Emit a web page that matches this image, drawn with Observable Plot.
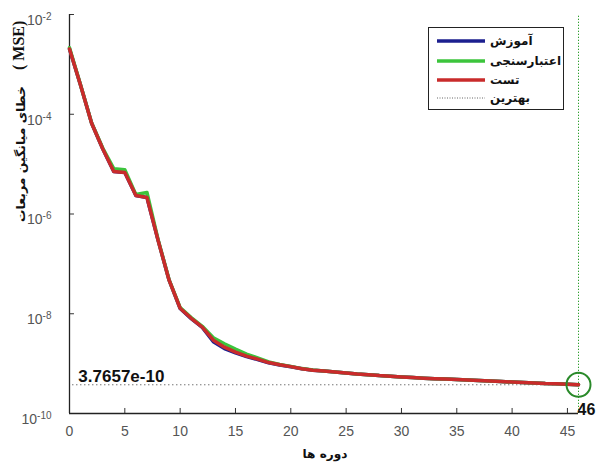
<!DOCTYPE html>
<html><head><meta charset="utf-8">
<script src="https://cdn.jsdelivr.net/npm/d3@7"></script>
<script src="https://cdn.jsdelivr.net/npm/@observablehq/plot@0.6"></script>
<style>
body{margin:0;background:#fff;}
#wrap{position:relative;width:598px;height:464px;overflow:hidden;background:#fff;}
#legend{position:absolute;left:428px;top:27px;width:136px;height:83px;border:1px solid #222;background:#fff;box-sizing:border-box;font-family:"DejaVu Sans",sans-serif;font-weight:bold;font-size:12px;color:#111;}
.row{position:absolute;left:8px;height:18px;display:flex;align-items:center;}
.row svg{width:48px;height:6px;margin-right:5px;}
</style></head><body><div id="wrap"></div>
<script>
const epochs = [0,1,2,3,4,5,6,7,8,9,10,11,12,13,14,15,16,17,18,19,20,21,22,23,24,25,26,27,28,29,30,31,32,33,34,35,36,37,38,39,40,41,42,43,44,45,46];
const testMSE = [2.04e-3,3.8e-4,6.6e-5,2.04e-5,7.1e-6,6.8e-6,2.34e-6,2.14e-6,3.0e-7,4.7e-8,1.29e-8,8.1e-9,5.4e-9,2.95e-9,2.14e-9,1.70e-9,1.41e-9,1.23e-9,1.05e-9,9.5e-10,8.7e-10,7.9e-10,7.4e-10,7.1e-10,6.8e-10,6.5e-10,6.2e-10,6.0e-10,5.75e-10,5.6e-10,5.4e-10,5.25e-10,5.1e-10,5.0e-10,4.9e-10,4.8e-10,4.7e-10,4.57e-10,4.47e-10,4.37e-10,4.27e-10,4.17e-10,4.07e-10,3.98e-10,3.94e-10,3.85e-10,3.7657e-10];
const trainMSE = [2.04e-3,3.8e-4,6.6e-5,2.04e-5,7.1e-6,6.8e-6,2.34e-6,2.14e-6,3.0e-7,4.7e-8,1.27e-8,8.0e-9,5.3e-9,2.75e-9,2.0e-9,1.64e-9,1.38e-9,1.21e-9,1.04e-9,9.4e-10,8.65e-10,7.9e-10,7.4e-10,7.1e-10,6.8e-10,6.5e-10,6.2e-10,6.0e-10,5.75e-10,5.6e-10,5.4e-10,5.25e-10,5.1e-10,5.0e-10,4.9e-10,4.8e-10,4.7e-10,4.57e-10,4.47e-10,4.37e-10,4.27e-10,4.17e-10,4.07e-10,3.98e-10,3.94e-10,3.85e-10,3.7657e-10];
const validMSE = [2.15e-3,3.85e-4,6.7e-5,2.1e-5,8.1e-6,7.7e-6,2.45e-6,2.7e-6,3.1e-7,4.8e-8,1.33e-8,8.4e-9,5.6e-9,3.3e-9,2.5e-9,1.95e-9,1.55e-9,1.3e-9,1.08e-9,9.6e-10,8.8e-10,7.95e-10,7.45e-10,7.1e-10,6.8e-10,6.5e-10,6.2e-10,6.0e-10,5.75e-10,5.6e-10,5.4e-10,5.25e-10,5.1e-10,5.0e-10,4.9e-10,4.8e-10,4.7e-10,4.57e-10,4.47e-10,4.37e-10,4.27e-10,4.17e-10,4.07e-10,3.98e-10,3.94e-10,3.85e-10,3.78e-10];
const bestEpoch = 46;
const bestValue = 3.7657e-10;
const xTicks = [0,5,10,15,20,25,30,35,40,45];
const yTicks = [1e-10,1e-8,1e-6,1e-4,1e-2];
const seriesNames = ["آموزش","اعتبارسنجی","تست","بهترین"];
const seriesColors = ["#1c1f8f","#3cc43c","#c92b2b","#666"];
const yLabelFa = "خطای میانگین مربعات";
const yLabelEn = "( MSE)";
const xLabel = "دوره ها";

const rows = (vals) => epochs.map((e,i)=>({epoch:e, mse:vals[i]}));

const chart = Plot.plot({
  width:598, height:464,
  marginLeft:69, marginRight:20, marginTop:14, marginBottom:51,
  style:{fontFamily:"'Liberation Sans', Arial, sans-serif", fontSize:"14px", background:"#fff", overflow:"visible"},
  x:{domain:[0,46]},
  y:{type:"log", domain:[1e-10,1e-2]},
  marks:[
    Plot.axisX({ticks:xTicks, tickSize:0, tickPadding:13, color:"#555", label:null, fontSize:14}),
    Plot.axisY({ticks:yTicks, tickSize:0, tickPadding:18, color:"#555", label:null, fontSize:14, tickFormat:d=>"10^"+Math.round(Math.log10(d)), dy:6}),
    Plot.ruleY(yTicks, {x1:0, x2:0.45, stroke:"#333", strokeWidth:1}),
    Plot.ruleX(xTicks, {y1:1e-10, y2:1.26e-10, stroke:"#333", strokeWidth:1}),
    Plot.ruleX([0], {y1:1e-10, y2:1e-2, stroke:"#222", strokeWidth:1.3}),
    Plot.ruleY([1e-10], {x1:0, x2:46, stroke:"#222", strokeWidth:1.3}),
    Plot.ruleX([bestEpoch], {y1:1e-10, y2:1e-2, stroke:"#2f9e2f", strokeDasharray:"1.3,1.7", strokeWidth:1}),
    Plot.ruleY([bestValue], {x1:0.3, x2:bestEpoch, stroke:"#333", strokeDasharray:"1,3", strokeWidth:1}),
    Plot.line(rows(trainMSE), {x:"epoch", y:"mse", stroke:seriesColors[0], strokeWidth:3.5}),
    Plot.line(rows(validMSE), {x:"epoch", y:"mse", stroke:seriesColors[1], strokeWidth:3.5}),
    Plot.line(rows(testMSE), {x:"epoch", y:"mse", stroke:seriesColors[2], strokeWidth:3.5}),
    Plot.dot([{epoch:bestEpoch, mse:bestValue}], {x:"epoch", y:"mse", r:12, stroke:"#2a8a2a", strokeWidth:2, fill:"none"}),
    Plot.text([bestValue], {x:0.8, y:d=>d, text:d=>d.toExponential(4), textAnchor:"start", lineAnchor:"bottom", dy:-3, fontSize:17, fontWeight:"bold", fill:"#111"}),
    Plot.text([bestEpoch], {x:d=>d, y:1e-10, text:d=>String(d), textAnchor:"start", lineAnchor:"bottom", dx:-1, dy:1, fontSize:16, fontWeight:"bold", fill:"#111"})
  ]
});

// superscript exponents on y tick labels
d3.select(chart).selectAll('g[aria-label="y-axis tick label"] text').each(function(){
  const t = d3.select(this);
  const parts = t.text().split("^");
  t.text(null);
  t.append("tspan").text(parts[0]);
  t.append("tspan").attr("dy","-0.5em").attr("font-size","10px").text(parts[1]);
});

const wrap = document.getElementById("wrap");
wrap.appendChild(chart);
const svg = d3.select(chart);

// y label: Persian part (bottom, from y=222 up to ~86) + "(MSE)" in serif bold (top)
const fa = svg.append("text")
  .attr("transform","translate(25,222) rotate(-90)")
  .attr("text-anchor","start")
  .attr("font-family","'DejaVu Sans', sans-serif").attr("font-weight","bold").attr("font-size","14px").attr("fill","#111")
  .text(yLabelFa);
const faLen = fa.node().getComputedTextLength();
if (faLen > 0) fa.attr("font-size", (14*136/faLen).toFixed(2)+"px");
svg.append("text")
  .attr("transform","translate(24,70) rotate(-90)")
  .attr("text-anchor","start")
  .attr("font-family","'Liberation Serif', 'Times New Roman', serif").attr("font-weight","bold").attr("font-size","16px").attr("fill","#111")
  .text(yLabelEn);

const xl = svg.append("text")
  .attr("x",325).attr("y",454)
  .attr("text-anchor","middle").attr("dominant-baseline","middle")
  .attr("font-family","'DejaVu Sans', sans-serif").attr("font-weight","bold").attr("font-size","14px").attr("fill","#111")
  .text(xLabel);
const xlLen = xl.node().getComputedTextLength();
if (xlLen > 0) xl.attr("font-size", (14*45/xlLen).toFixed(2)+"px");

const legend = document.createElement("div");
legend.id = "legend";
const tops = [4,24,43,61];
seriesNames.forEach((n,i)=>{
  const r = document.createElement("div");
  r.className = "row";
  r.style.top = tops[i]+"px";
  const dash = i===3 ? 'stroke-dasharray="1,1.5" stroke-width="1"' : 'stroke-width="3.5"';
  r.innerHTML = `<svg viewBox="0 0 48 6"><line x1="0" y1="3" x2="48" y2="3" stroke="${seriesColors[i]}" ${dash}/></svg><span>${n}</span>`;
  legend.appendChild(r);
});
wrap.appendChild(legend);
</script></body></html>
